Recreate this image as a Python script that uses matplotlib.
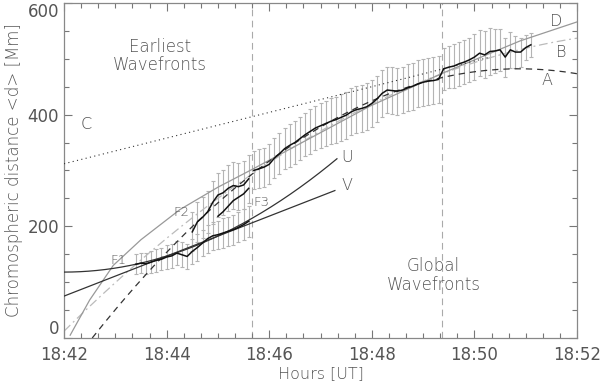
import numpy as np
import matplotlib
matplotlib.use("Agg")
import matplotlib.pyplot as plt
from matplotlib.ticker import MultipleLocator, FixedLocator, FixedFormatter

# ---------------- data (time in minutes after 18:42 UT, distance in Mm) -------------
x_tick_pos = [0, 2, 4, 6, 8, 10]
x_tick_labels = ["18:42", "18:44", "18:46", "18:48", "18:50", "18:52"]
y_tick_pos = [0, 200, 400, 600]

cadence = 0.1  # min

# lower (early) wavefront series, 18:43:24 - 18:45:36
t_low = np.round(np.arange(1.4, 3.65, cadence), 2)
d_low = [132, 134, 133, 136, 139, 141, 145, 147, 152, 149, 146, 155, 162,
         170, 178, 183, 185, 188, 191, 194, 198, 203, 209]
e_low = [18, 18, 19, 19, 20, 20, 21, 21, 22, 22, 23, 23, 24, 24, 25, 25,
         25, 26, 26, 27, 27, 28, 28]

# F2 series
t_f2 = np.round(np.arange(2.5, 3.65, cadence), 2)
d_f2 = [190, 208, 216, 226, 243, 256, 260, 268, 273, 271, 274, 285]
e_f2 = [35, 36, 37, 38, 39, 40, 40, 41, 42, 42, 43, 43]

# F3 series
t_f3 = np.round(np.arange(3.0, 3.65, cadence), 2)
d_f3 = [218, 226, 236, 246, 252, 258, 268]

# global wavefront series
t_main = np.round(np.arange(3.7, 9.15, cadence), 2)
d_main = [300, 303, 306, 311, 322, 330, 339, 345, 350, 357,
          364, 370, 376, 380, 384, 388, 391, 395, 399, 405,
          409, 411, 414, 420, 428, 438, 444, 443, 442, 444,
          448, 451, 455, 458, 460, 461, 463,
          482, 485, 487, 491, 494, 498, 503, 510, 507, 513, 514,
          516, 503, 516, 512, 512, 520, 525]
e_main = [34, 35, 35, 36, 36, 37, 37, 38, 38, 39,
          39, 40, 40, 40, 41, 41, 41, 42, 42, 42,
          42, 42, 42, 42, 42, 42, 42, 42, 42, 42,
          42, 42, 42, 42, 42, 42, 42,
          38, 38, 39, 39, 40, 40, 41, 41, 42, 42, 40,
          38, 35, 32, 29, 26, 23, 21]

# fit curves (polynomial coefficients d = a + b t + c t^2)
fit_A = (-65.8, 123.5, -6.96)   # dashed
fit_B = (12.2, 90.8, -3.833)    # dash-dot
fit_U = (118.0, 0.0, 7.17)
fit_V = (75.0, 35.8, 0.0)
fit_C = (312.0, 23.0, 0.0)      # dotted
range_A = (0.55, 10.0)
range_B = (0.0, 10.0)
range_U = (0.0, 5.32)
range_V = (0.0, 5.28)
range_C = (0.0, 8.3)

# curve D
t_D = [0.12, 0.5, 0.96, 1.5, 2.26, 3.0, 3.69, 4.6, 5.96, 7.4, 8.89, 10.0]
d_D = [5, 68, 130, 176, 230, 270, 303, 348, 415, 475, 532, 566]

vlines = [3.66, 7.36]

# ---------------------------------------------------------------------------------------
txt = "#555555"
plt.rcParams["font.family"] = ["DejaVu Sans"]

fig = plt.figure(figsize=(6.0, 3.86), dpi=100)
ax = fig.add_axes([0.1067, 0.1244, 0.855, 0.868])

ebkw = dict(fmt="none", ecolor="#b4b4b4", elinewidth=0.8, capsize=1.6,
            capthick=0.8, zorder=1)
ax.errorbar(t_low, d_low, yerr=e_low, **ebkw)
ax.errorbar(t_f2, d_f2, yerr=e_f2, **ebkw)
ax.errorbar(t_main, d_main, yerr=e_main, **ebkw)

for xv in vlines:
    ax.axvline(xv, color="#aaaaaa", lw=0.8, ls=(0, (6, 4)), zorder=0)


def poly(coef, rng):
    t = np.linspace(rng[0], rng[1], 200)
    return t, coef[0] + coef[1] * t + coef[2] * t ** 2


t, d = poly(fit_C, range_C)
ax.plot(t, d, color="#333333", lw=0.8, ls=(0, (1, 3)), zorder=3)
t, d = poly(fit_B, range_B)
ax.plot(t, d, color="#bbbbbb", lw=0.9, ls=(0, (7, 3, 1.5, 3)), zorder=2)
t, d = poly(fit_A, range_A)
ax.plot(t, d, color="#333333", lw=0.9, ls=(0, (5, 4)), zorder=3)
ax.plot(t_D, d_D, color="#999999", lw=0.9, zorder=2)
t, d = poly(fit_U, range_U)
ax.plot(t, d, color="#333333", lw=0.9, zorder=3)
t, d = poly(fit_V, range_V)
ax.plot(t, d, color="#333333", lw=0.9, zorder=3)

lkw = dict(color="#111111", lw=1.1, zorder=4)
ax.plot(t_low, d_low, **lkw)
ax.plot(t_f2, d_f2, **lkw)
ax.plot(t_f3, d_f3, **lkw)
ax.plot(t_main, d_main, **lkw)

# labels in plot
fkw = dict(color=txt, ha="center", va="center", fontweight="light")
ax.text(1.06, 140, "F1", fontsize=9.5, **fkw)
ax.text(2.29, 226, "F2", fontsize=9.5, **fkw)
ax.text(3.84, 243, "F3", fontsize=9.5, **fkw)
ax.text(5.52, 323, "U", fontsize=11.5, **fkw)
ax.text(5.52, 273, "V", fontsize=11.5, **fkw)
ax.text(9.6, 566, "D", fontsize=11.5, **fkw)
ax.text(9.7, 511, "B", fontsize=11.5, **fkw)
ax.text(9.41, 461, "A", fontsize=11.5, **fkw)
ax.text(0.43, 383, "C", fontsize=11.5, **fkw)
ax.text(1.87, 505, "Earliest\nWavefronts", fontsize=12, linespacing=1.05, **fkw)
ax.text(7.2, 112, "Global\nWavefronts", fontsize=12, linespacing=1.05, **fkw)

ax.set_xlim(0, 10)
ax.set_ylim(0, 600)
ax.xaxis.set_major_locator(FixedLocator(x_tick_pos))
ax.xaxis.set_major_formatter(FixedFormatter(x_tick_labels))
ax.xaxis.set_minor_locator(MultipleLocator(1 / 3))
ax.yaxis.set_major_locator(FixedLocator(y_tick_pos))
ax.yaxis.set_minor_locator(MultipleLocator(50))
ax.tick_params(which="both", direction="in", top=True, right=True,
               colors="#777777", labelcolor=txt, labelsize=12, width=0.8)
ax.tick_params(which="major", length=6)
ax.tick_params(which="minor", length=3.5)
ax.tick_params(axis="x", pad=6)
for s in ax.spines.values():
    s.set_color("#888888")
    s.set_linewidth(0.9)

fig.canvas.draw()
yticks = ax.yaxis.get_major_ticks()
yticks[-1].label1.set_verticalalignment("top")
yticks[0].label1.set_verticalalignment("bottom")

ax.set_xlabel("Hours [UT]", color=txt, fontsize=11.5, fontweight="light", labelpad=1)
ax.set_ylabel("Chromospheric distance <d> [Mm]", color=txt, fontsize=12,
              fontweight="light", labelpad=3)

fig.savefig("out.png", dpi=100)
